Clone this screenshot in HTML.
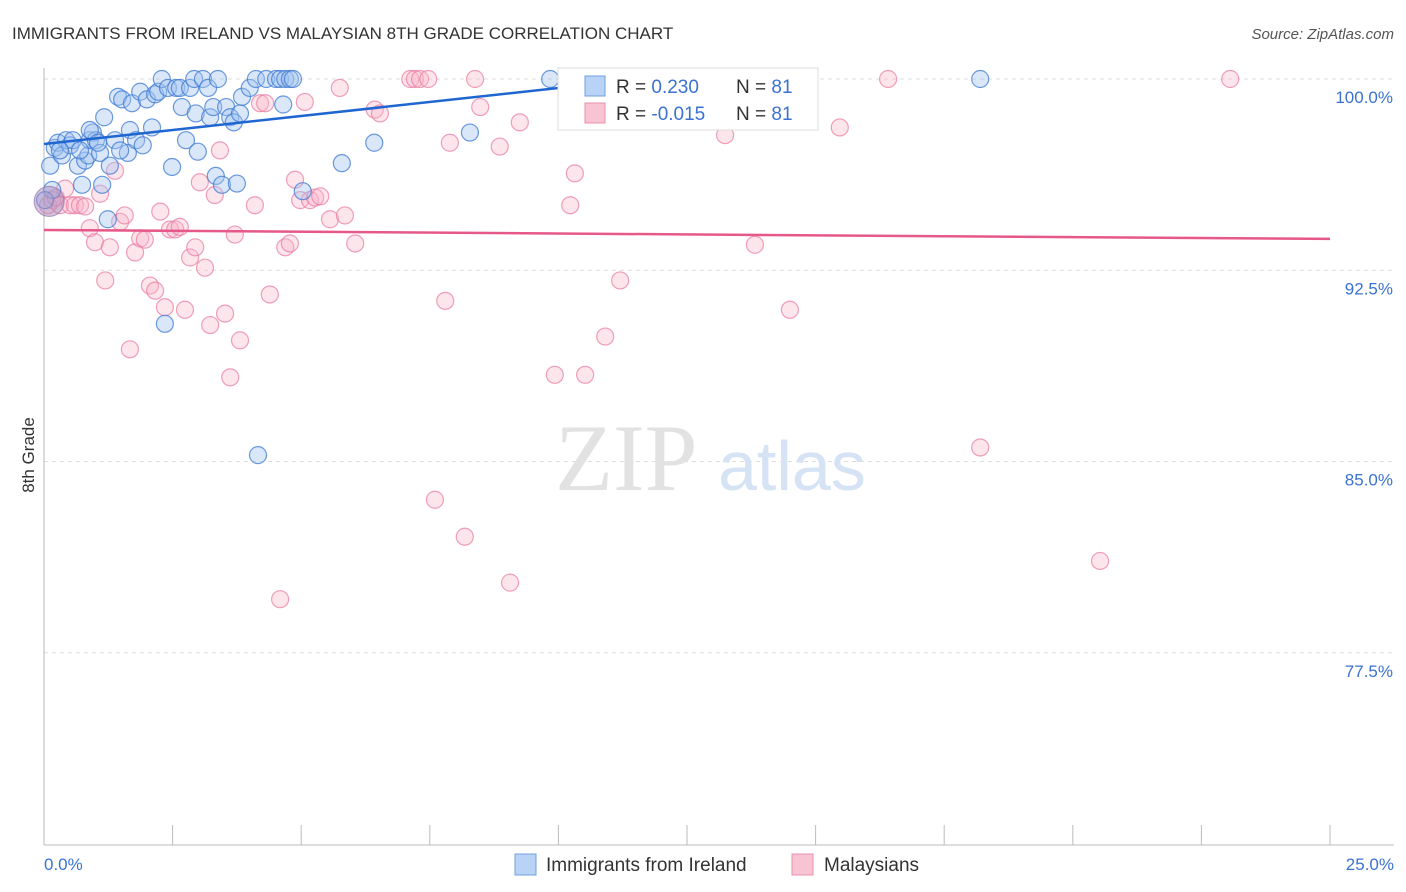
<!DOCTYPE html>
<html><head><meta charset="utf-8"><style>
body{margin:0;background:#fff;font-family:"Liberation Sans",sans-serif;}
svg{display:block}
</style></head><body>
<svg id="c" width="1406" height="892">
<text x="12" y="39" font-size="17" fill="#333">IMMIGRANTS FROM IRELAND VS MALAYSIAN 8TH GRADE CORRELATION CHART</text>
<text x="1394" y="39" font-size="15" fill="#555" font-style="italic" text-anchor="end">Source: ZipAtlas.com</text>
<text x="34" y="455" font-size="17" fill="#333" transform="rotate(-90 34 455)" text-anchor="middle">8th Grade</text>
<g id="grid"></g>
<line x1="44" y1="68" x2="44" y2="845" stroke="#bbb"/>
<line x1="44" y1="845" x2="1394" y2="845" stroke="#bbb"/>
<g id="xt"></g>
<text x="555" y="490" font-size="95" fill="#e2e2e2" font-family="Liberation Serif,serif">ZIP</text>
<text x="718" y="490" font-size="70" fill="#d5e3f5">atlas</text>
<g id="pts"></g>
<g id="lines"></g>
<g>
<rect x="558" y="68" width="260" height="62" fill="#fff" stroke="#ddd"/>
<rect x="585" y="76" width="20" height="20" fill="#b8d3f5" stroke="#6fa0e0"/>
<text x="616" y="93" font-size="19" fill="#333">R = <tspan fill="#3b72d1"> 0.230</tspan></text>
<text x="736" y="93" font-size="19" fill="#333">N = <tspan fill="#3b72d1">81</tspan></text>
<rect x="585" y="103" width="20" height="20" fill="#f8c4d4" stroke="#e890ab"/>
<text x="616" y="120" font-size="19" fill="#333">R = <tspan fill="#3b72d1">-0.015</tspan></text>
<text x="736" y="120" font-size="19" fill="#333">N = <tspan fill="#3b72d1">81</tspan></text>
</g>
<text x="44" y="870" font-size="17" fill="#3b72d1">0.0%</text>
<text x="1394" y="870" font-size="17" fill="#3b72d1" text-anchor="end">25.0%</text>
<g><rect x="515" y="854" width="21" height="21" fill="#b8d3f5" stroke="#6fa0e0"/><text x="546" y="871" font-size="19" fill="#333">Immigrants from Ireland</text></g>
<g><rect x="792" y="854" width="21" height="21" fill="#f8c4d4" stroke="#e890ab"/><text x="824" y="871" font-size="19" fill="#333">Malaysians</text></g>
</svg>
<script>
const yTicks=[100,92.5,85,77.5];
const yTickLabels=["100.0%","92.5%","85.0%","77.5%"];
const blueX=[0.12,0.16,0.21,0.27,0.35,0.43,0.51,0.56,0.66,0.74,0.80,0.86,0.89,0.95,1.01,1.09,1.13,1.17,1.24,1.28,1.38,1.44,1.52,1.63,1.67,1.71,1.79,1.87,1.92,2.00,2.10,2.16,2.22,2.29,2.35,2.41,2.49,2.57,2.64,2.68,2.76,2.84,2.92,2.95,2.99,3.09,3.19,3.23,3.29,3.34,3.38,3.46,3.54,3.62,3.69,3.75,3.81,3.85,4.00,4.12,4.16,4.32,4.51,4.59,4.65,4.69,4.78,4.84,5.03,5.79,6.42,8.28,9.84,11.16,18.2,0.89,1.05,1.48,0.70,0.31,0.02];
const blueY=[96.6,95.65,97.3,97.5,97.0,97.6,97.4,97.6,96.6,95.85,96.8,97.0,97.6,97.9,97.6,97.1,95.85,98.5,94.5,96.6,97.6,99.3,99.2,97.1,98.0,99.05,97.6,99.5,97.4,99.2,98.1,99.4,99.5,100,90.4,99.65,96.55,99.65,99.65,98.9,97.6,99.65,100,98.65,97.15,100,99.65,98.5,98.9,96.2,100,95.85,98.9,98.5,98.3,95.9,98.65,99.3,99.65,100,85.25,100,100,100,99.0,100,100,100,95.6,96.7,97.5,97.9,100,100,100,98.0,97.5,97.2,97.2,97.2,95.25];
const pinkX=[0.08,0.16,0.23,0.31,0.41,0.51,0.60,0.70,0.80,0.89,0.99,1.09,1.19,1.28,1.38,1.48,1.57,1.67,1.77,1.87,1.96,2.06,2.16,2.26,2.35,2.45,2.55,2.64,2.74,2.84,2.94,3.03,3.13,3.23,3.32,3.42,3.52,3.62,3.71,3.81,4.10,4.20,4.30,4.39,4.59,4.69,4.78,4.88,4.98,5.07,5.17,5.27,5.37,5.56,5.75,5.85,6.05,6.43,6.53,7.12,7.21,7.31,7.47,7.60,7.80,7.89,8.18,8.38,8.48,8.86,9.06,9.25,9.93,10.23,10.32,10.52,10.91,11.20,13.24,13.82,14.50,15.47,16.41,18.20,20.53,23.06];
const pinkY=[95.05,95.25,95.35,95.05,95.7,95.05,95.05,95.05,95.0,94.15,93.6,95.5,92.1,93.4,96.4,94.4,94.65,89.4,93.2,93.75,93.7,91.9,91.7,94.8,91.05,94.1,94.1,94.2,90.95,93.0,93.4,95.95,92.6,90.35,95.45,97.2,90.8,88.3,93.9,89.75,95.05,99.05,99.05,91.55,79.6,93.4,93.55,96.05,95.25,99.1,95.25,95.35,95.4,94.5,99.65,94.65,93.55,98.8,98.65,100,100,100,100,83.5,91.3,97.5,82.05,100,98.9,97.35,80.25,98.3,88.4,95.05,96.3,88.4,89.9,92.1,97.8,93.5,90.95,98.1,100,85.55,81.1,100];
const blueTrend=[0,97.45,11.6,100];
const pinkTrend=[0,94.08,25,93.73];
const X=v=>44+v*51.44, Y=v=>79+(100-v)*25.5;
const NS="http://www.w3.org/2000/svg";
function mk(p,t,a){const e=document.createElementNS(NS,t);for(const k in a)e.setAttribute(k,a[k]);document.getElementById(p).appendChild(e);return e;}
yTicks.forEach((t,i)=>{
 const l=mk('grid','line',{x1:44,x2:1394,y1:Y(t),y2:Y(t),stroke:'#ddd','stroke-dasharray':'4 4'});
 
 
 const tx=mk('grid','text',{x:1393,y:Y(t)+24,'font-size':17,fill:'#3b72d1','text-anchor':'end'});
 tx.textContent=yTickLabels[i];
 
 
});
for(let i=0;i<=10;i++){
 const l=mk('xt','line',{x1:X(i*2.5),x2:X(i*2.5),y1:825,y2:845,stroke:'#bbb'});
 
 
}
pinkX.forEach((x,i)=>{
 const c=mk('pts','circle',{cx:X(x),cy:Y(pinkY[i]),r:8.5,fill:'rgba(248,180,200,0.35)',stroke:'rgba(232,120,160,0.7)','stroke-width':1.2});
 
 
});
blueX.forEach((x,i)=>{
 const c=mk('pts','circle',{cx:X(x),cy:Y(blueY[i]),r:8.5,fill:'rgba(160,195,240,0.4)',stroke:'rgba(60,120,210,0.75)','stroke-width':1.2});
 
 
});
const big=mk('pts','circle',{cx:X(0.1),cy:Y(95.2),r:15,fill:'rgba(170,140,190,0.5)',stroke:'rgba(140,110,170,0.7)'});


const bl=mk('lines','line',{x1:X(blueTrend[0]),y1:Y(blueTrend[1]),x2:X(blueTrend[2]),y2:Y(blueTrend[3]),stroke:'#1f66d1','stroke-width':2.5});


const pl=mk('lines','line',{x1:X(pinkTrend[0]),y1:Y(pinkTrend[1]),x2:X(pinkTrend[2]),y2:Y(pinkTrend[3]),stroke:'#e6578a','stroke-width':2.5});


</script>
</body></html>
